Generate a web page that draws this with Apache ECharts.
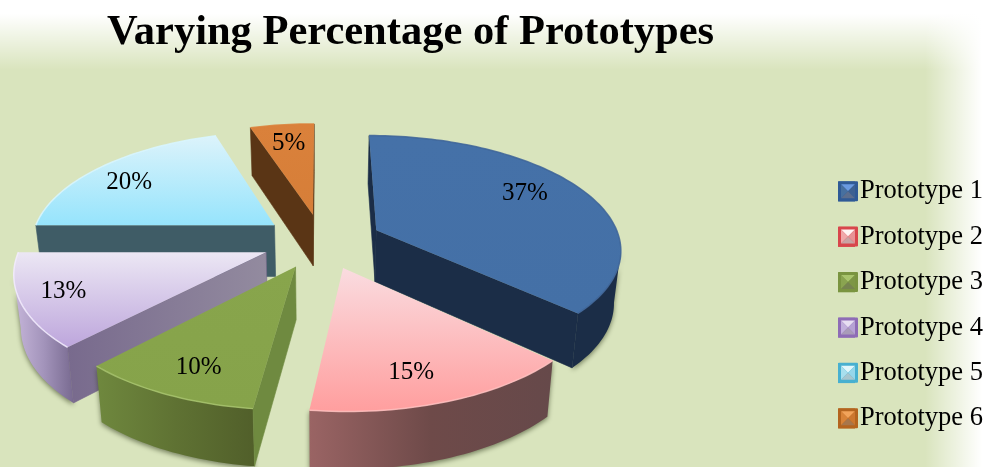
<!DOCTYPE html>
<html>
<head>
<meta charset="utf-8">
<style>html,body{margin:0;padding:0;background:#fff}#chart{width:992px;height:467px}</style>
<script src="https://cdn.jsdelivr.net/npm/echarts@6/dist/echarts.min.js"></script>
</head>
<body>
<div id="chart"></div>
<script>
const titleText = 'Varying Percentage of Prototypes';
const categories = ['Prototype 1', 'Prototype 2', 'Prototype 3', 'Prototype 4', 'Prototype 5', 'Prototype 6'];
const shares = [37, 15, 10, 13, 20, 5];

// Surface colours for each wedge
const topFill = [
  ['#4571a8', '#4470a6'], ['#fadce0', '#ff9e9e'], ['#88a54c', '#86a34a'],
  ['#ece7f4', '#bda6dc'], ['#dcf3fb', '#96e4fc'], ['#da813b', '#d67e38']
];
const outerFill = [
  ['#1b2d47', '#1b2d47', '#1b2d47'], ['#9a6464', '#6e4a49', '#66494a'], ['#6f883e', '#5f7233', '#515f2a'],
  ['#c6b6da', '#a394bb', '#786a90'], ['#41606a', '#41606a', '#41606a'], ['#5a3515', '#5a3515', '#5a3515']
];
const cutFill = [
  ['#1b2d47', '#1b2d47'], ['#66494a', '#66494a'], ['#6f8a40', '#6f8a40'],
  ['#786a8d', '#938b9f'], ['#3f5c66', '#3f5c66'], ['#5a3515', '#5a3515']
];
const rimColor = ['#3e6498', '#ffc0c0', '#a6c26c', '#f3ecff', '#d8f6ff', '#da813b'];
const legendFrame = ['#2f5a96', '#d8464c', '#7a9440', '#8e6cb6', '#48b0d0', '#b4641f'];
const legendFacets = [
  ['#6a9ae0', '#47709f', '#3c6192', '#5b6e8e'],
  ['#fff4f4', '#f0a8aa', '#e89295', '#c9a3a4'],
  ['#a9c46c', '#8aa450', '#7d9645', '#76844f'],
  ['#e7def2', '#c2b0dc', '#b6a2d4', '#a99bb9'],
  ['#e2f7fc', '#a8dfee', '#96d6ea', '#a7c6cf'],
  ['#f2a35a', '#d98338', '#cc772f', '#a8764b']
];

// Projection of the tilted, exploded disc onto the page
const CX = 322, CY = 241, TILT = 0.46, PERSPECTIVE = 0.00063;
const RADIUS = 244, EXPLODE = 60, DEPTH = 52, BASE_SHRINK = 0.977;

function project(wx, wy) {
  const w = 1 + PERSPECTIVE * wy;
  return { x: CX + wx / w, y: CY - TILT * wy / w, w };
}
function base(p) {
  return [CX + (p.x - CX) * BASE_SHRINK, p.y + DEPTH / Math.sqrt(p.w)];
}
function linear(colors, horizontal) {
  return {
    type: 'linear', x: 0, y: 0, x2: horizontal ? 1 : 0, y2: horizontal ? 0 : 1,
    colorStops: colors.map((color, i) => ({ offset: i / (colors.length - 1), color }))
  };
}

// Small nudges that seat each percentage on its wedge
const labelNudge = [[-2, -7], [-4, 12], [-7, 13], [-28, 5], [-17, 0], [-1, -4]];

function wedgeElements(index, value) {
  const total = shares.reduce((a, b) => a + b, 0);
  const before = shares.slice(0, index).reduce((a, b) => a + b, 0);
  const a0 = before / total * Math.PI * 2;
  const a1 = a0 + value / total * Math.PI * 2;
  const mid = (a0 + a1) / 2;
  const ox = Math.sin(mid) * EXPLODE, oy = Math.cos(mid) * EXPLODE;

  const apex = project(ox, oy);
  const steps = Math.max(8, Math.round((a1 - a0) * 40));
  const arc = [];
  for (let i = 0; i <= steps; i++) {
    const t = a0 + (a1 - a0) * i / steps;
    arc.push(project(ox + Math.sin(t) * RADIUS, oy + Math.cos(t) * RADIUS));
  }

  const children = [];
  const quad = (a, b, colors) => ({
    type: 'polygon',
    shape: { points: [[a.x, a.y], [b.x, b.y], base(b), base(a)] },
    style: { fill: linear(colors, true), stroke: colors[0], lineWidth: 0.6 }
  });

  // Curved outer wall, only the stretch turned toward the viewer
  const front = [];
  for (let i = 0; i < steps; i++) {
    if (arc[i + 1].x < arc[i].x) {
      if (!front.length) front.push(arc[i]);
      front.push(arc[i + 1]);
    }
  }
  if (front.length > 1) {
    const pts = front.map(p => [p.x, p.y]).concat(front.slice().reverse().map(base));
    children.push({
      type: 'polygon',
      shape: { points: pts },
      style: {
        fill: linear(outerFill[index], true),
        shadowBlur: 5, shadowColor: 'rgba(50,60,30,0.6)', shadowOffsetY: 2
      }
    });
  }

  // Cut faces: an edge walked clockwise faces the viewer when it runs leftward
  if (arc[0].x < apex.x) children.push(quad(apex, arc[0], cutFill[index]));
  if (apex.x < arc[steps].x) children.push(quad(arc[steps], apex, cutFill[index]));

  // Top face and its bevelled rim
  children.push({
    type: 'polygon',
    shape: { points: [[apex.x, apex.y]].concat(arc.map(p => [p.x, p.y])) },
    style: { fill: linear(topFill[index], false) }
  });
  children.push({
    type: 'polyline',
    shape: { points: arc.map(p => [p.x, p.y]) },
    style: { fill: null, stroke: rimColor[index], lineWidth: 1.5, opacity: 0.85 }
  });

  // Percentage label near the middle of the wedge
  const reach = EXPLODE + 0.72 * 245;
  const lab = project(Math.sin(mid) * reach, Math.cos(mid) * reach);
  children.push({
    type: 'text',
    style: {
      text: value + '%',
      x: lab.x + labelNudge[index][0], y: lab.y + labelNudge[index][1],
      align: 'center', verticalAlign: 'middle',
      font: '25px "Liberation Serif"', fill: '#000'
    }
  });
  return { type: 'group', children };
}

// Wedges nearer the viewer paint later
const depthOrder = shares.map((v, i) => {
  const before = shares.slice(0, i).reduce((a, b) => a + b, 0);
  const mid = (before + v / 2) / 100 * Math.PI * 2;
  return 3 - Math.cos(mid);
});

const series = categories.map((name, i) => ({
  type: 'custom',
  name,
  coordinateSystem: 'none',
  z: depthOrder[i],
  silent: true,
  itemStyle: { color: legendFrame[i] },
  data: [shares[i]],
  renderItem: (params, api) => wedgeElements(i, api.value(0))
}));

// Bevelled faces laid over each legend key
const KEY_X = 838, KEY_Y = 181.2, KEY_STEP = 45.4, KEY_SIZE = 20, KEY_INSET = 3;
const keyGraphics = [];
categories.forEach((name, i) => {
  const x0 = KEY_X, y0 = KEY_Y + i * KEY_STEP, s = KEY_SIZE, d = KEY_INSET;
  keyGraphics.push({
    type: 'rect', z: 100, silent: true,
    shape: { x: x0, y: y0, width: s, height: s, r: 1 },
    style: { fill: legendFrame[i] }
  });
  const a = [x0 + d, y0 + d], b = [x0 + s - d, y0 + d], c = [x0 + s - d, y0 + s - d], e = [x0 + d, y0 + s - d];
  const m = [x0 + s / 2, y0 + s / 2];
  [[a, b], [e, a], [b, c], [c, e]].forEach((edge, f) => {
    keyGraphics.push({
      type: 'polygon', z: 101, silent: true,
      shape: { points: [edge[0], edge[1], m] },
      style: { fill: legendFacets[i][f] }
    });
  });
});

const backdrop = [
  { type: 'rect', z: -10, silent: true, shape: { x: 0, y: 0, width: 992, height: 467 }, style: { fill: '#d9e4bd' } },
  {
    type: 'rect', z: -9, silent: true, shape: { x: 0, y: 0, width: 992, height: 70 },
    style: {
      fill: {
        type: 'linear', x: 0, y: 0, x2: 0, y2: 1,
        colorStops: [
          { offset: 0, color: 'rgba(255,255,255,1)' }, { offset: 0.2, color: 'rgba(255,255,255,1)' },
          { offset: 1, color: 'rgba(255,255,255,0)' }
        ]
      }
    }
  },
  {
    type: 'rect', z: -9, silent: true, shape: { x: 925, y: 0, width: 67, height: 467 },
    style: {
      fill: {
        type: 'linear', x: 0, y: 0, x2: 1, y2: 0,
        colorStops: [
          { offset: 0, color: 'rgba(255,255,255,0)' }, { offset: 0.85, color: 'rgba(255,255,255,1)' },
          { offset: 1, color: 'rgba(255,255,255,1)' }
        ]
      }
    }
  }
];

const chart = echarts.init(document.getElementById('chart'), null, { renderer: 'canvas' });
chart.setOption({
  animation: false,
  backgroundColor: '#fff',
  title: {
    text: titleText, left: 102, top: 7,
    textStyle: { fontFamily: '"Liberation Serif"', fontWeight: 'bold', fontSize: 42.5, color: '#000' }
  },
  legend: {
    orient: 'vertical', left: 838, top: 178,
    padding: 0, itemWidth: 17, itemHeight: 20, itemGap: 18.4,
    icon: 'rect', selectedMode: false,
    data: categories,
    textStyle: { fontFamily: '"Liberation Serif"', fontSize: 26.5, color: '#000' }
  },
  graphic: { elements: backdrop.concat(keyGraphics) },
  series
});
</script>
</body>
</html>
